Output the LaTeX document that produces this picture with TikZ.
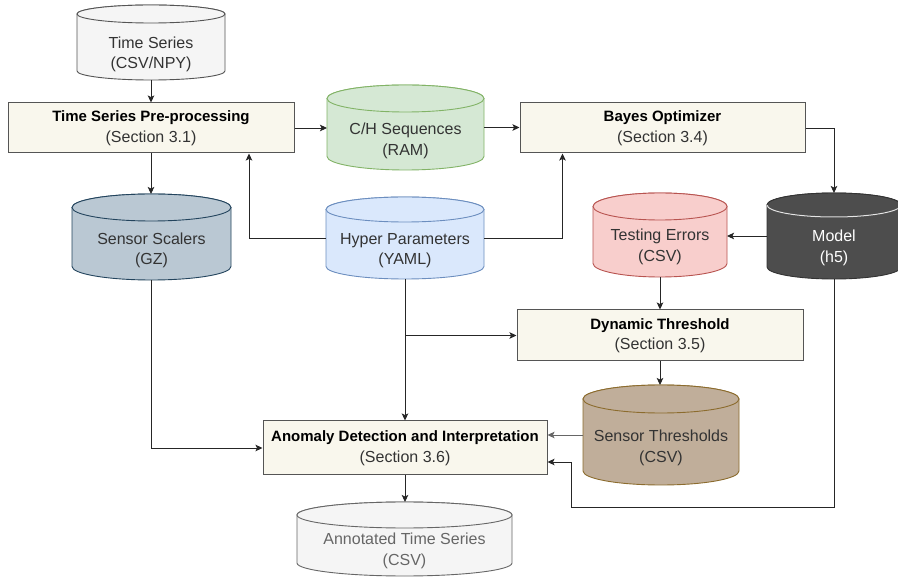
\documentclass[tikz,border=0pt]{standalone}
\usepackage{fontspec}
\setmainfont{Liberation Sans}
\usetikzlibrary{arrows.meta,calc}
\definecolor{boxfill}{HTML}{F9F7ED}
\definecolor{boxline}{HTML}{555555}
\definecolor{txt}{HTML}{333333}
\definecolor{tsfill}{HTML}{F5F5F5}
\definecolor{tsline}{HTML}{555555}
\definecolor{chfill}{HTML}{D5E8D4}
\definecolor{chline}{HTML}{82B366}
\definecolor{hpfill}{HTML}{DAE8FC}
\definecolor{hpline}{HTML}{6C8EBF}
\definecolor{ssfill}{HTML}{BAC8D3}
\definecolor{ssline}{HTML}{23445D}
\definecolor{tefill}{HTML}{F8CECC}
\definecolor{teline}{HTML}{B85450}
\definecolor{mofill}{HTML}{4D4D4D}
\definecolor{moline}{HTML}{333333}
\definecolor{stfill}{HTML}{C0AE9A}
\definecolor{stline}{HTML}{8C6C2E}
\definecolor{atline}{HTML}{666666}
\newcommand\ttl[1]{{\fontsize{15}{20}\selectfont\bfseries\color{black}#1}}
% cylinder: name, L, T, R, B, ry, shape style, text, text node style
\newcommand\dbcyl[9]{%
  \pgfmathsetmacro\cylcx{(#2+#4)/2}%
  \pgfmathsetmacro\cylrx{(#4-#2)/2}%
  \path[#7] (#2,-#3-#6) -- (#2,-#5+#6)
     arc[start angle=180,end angle=360,x radius=\cylrx,y radius=#6]
     -- (#4,-#3-#6)
     arc[start angle=0,end angle=180,x radius=\cylrx,y radius=#6] -- cycle;
  \path[#7] (\cylcx,-#3-#6) ellipse[x radius=\cylrx,y radius=#6];
  \node[inner sep=0pt,outer sep=0pt,minimum width={#4-#2},minimum height={#5-#3}] (#1) at (\cylcx,{-(#3+#5)/2}) {};
  \node[align=center,inner sep=0pt,#9] (#1t) at (\cylcx,{-(#3+2*#6+#5)/2}) {#8};
}
\begin{document}
\begin{tikzpicture}[x=1pt,y=1pt,
  font=\fontsize{16}{20.5}\selectfont,
  proc/.style={draw=boxline,fill=boxfill,line width=1pt,inner sep=0pt,align=center,text=txt},
  arr/.style={-{Stealth[length=7pt,width=6.5pt,inset=1.5pt]},line width=0.9pt,draw=black!85},
  cyl/.style={line width=0.9pt}]
\useasboundingbox (0,0) rectangle (898,-577);
\clip (0,0) rectangle (898,-577);
\fill[white] (0,0) rectangle (898,-577);

% cylinders
\dbcyl{ts}{77}{5}{225}{80}{9}{cyl,fill=tsfill,draw=tsline}{Time Series\\(CSV/NPY)}{text=txt,yshift=-3pt}
\dbcyl{ch}{327}{85}{484}{170}{13.5}{cyl,fill=chfill,draw=chline}{C/H Sequences\\(RAM)}{text=txt}
\dbcyl{hp}{326}{197}{484}{279}{12.5}{cyl,fill=hpfill,draw=hpline}{Hyper Parameters\\(YAML)}{text=txt}
\dbcyl{ss}{72}{194}{231}{280}{13.5}{cyl,fill=ssfill,draw=ssline}{Sensor Scalers\\(GZ)}{text=txt}
\dbcyl{te}{593}{193}{727}{277}{13.5}{cyl,fill=tefill,draw=teline}{Testing Errors\\(CSV)}{text=txt,yshift=1.5pt}
\dbcyl{mo}{767}{193}{901}{279}{12}{cyl,fill=mofill,draw=moline}{Model\\(h5)}{text=white}
\draw[line width=1pt,draw=white!80!gray] (767,-205) arc[start angle=180,end angle=360,x radius=67,y radius=12];
\dbcyl{st}{583}{385}{739}{485}{14}{cyl,fill=stfill,draw=stline}{Sensor Thresholds\\(CSV)}{text=txt,yshift=1pt}
\dbcyl{at}{297}{502}{512}{576}{13}{cyl,fill=tsfill,draw=atline}{Annotated Time Series\\(CSV)}{text=atline,yshift=1pt}

% process boxes
\node[proc,minimum width=286,minimum height=50] (pre) at (151,-128)
  {\ttl{Time Series Pre-processing}\\(Section 3.1)};
\node[proc,minimum width=285,minimum height=50] (bo) at (662.5,-128)
  {\ttl{Bayes Optimizer}\\(Section 3.4)};
\node[proc,minimum width=286,minimum height=51] (dt) at (660,-335.5)
  {\ttl{Dynamic Threshold}\\(Section 3.5)};
\node[proc,minimum width=284,minimum height=54] (an) at (405,-448)
  {\ttl{Anomaly Detection and Interpretation}\\(Section 3.6)};

% connectors
\draw[arr] (ts.south) -- (pre.north);
\draw[arr] (pre.south) -- (pre.south |- ss.north);
\draw[arr] (pre.east) -- (pre.east -| ch.west);
\draw[arr] (ch.east) -- (ch.east -| bo.west);
\draw[arr] (hp.west) -| ([xshift=98pt]pre.south);
\draw[arr] (hp.east) -| ([xshift=-100pt]bo.south);
\draw[arr] (bo.east) -| (mo.north);
\draw[arr] (mo.west) -- (mo.west -| te.east);
\draw[arr] (te.south) -- (te.south |- dt.north);
\draw[arr] (hp.south) -- (hp.south |- an.north);
\draw[arr] (hp.south |- dt.west) -- (dt.west);
\draw[arr] (dt.south) -- (dt.south |- st.north);
\draw[arr,draw=black!60] (st.west) -- (st.west -| an.east);
\draw[arr] (mo.south) |- ([xshift=24pt,yshift=-59pt]an.east) |- ([yshift=-14pt]an.east);
\draw[arr] (ss.south) |- (an.west);
\draw[arr] (an.south) -- (an.south |- at.north);
\end{tikzpicture}
\end{document}
